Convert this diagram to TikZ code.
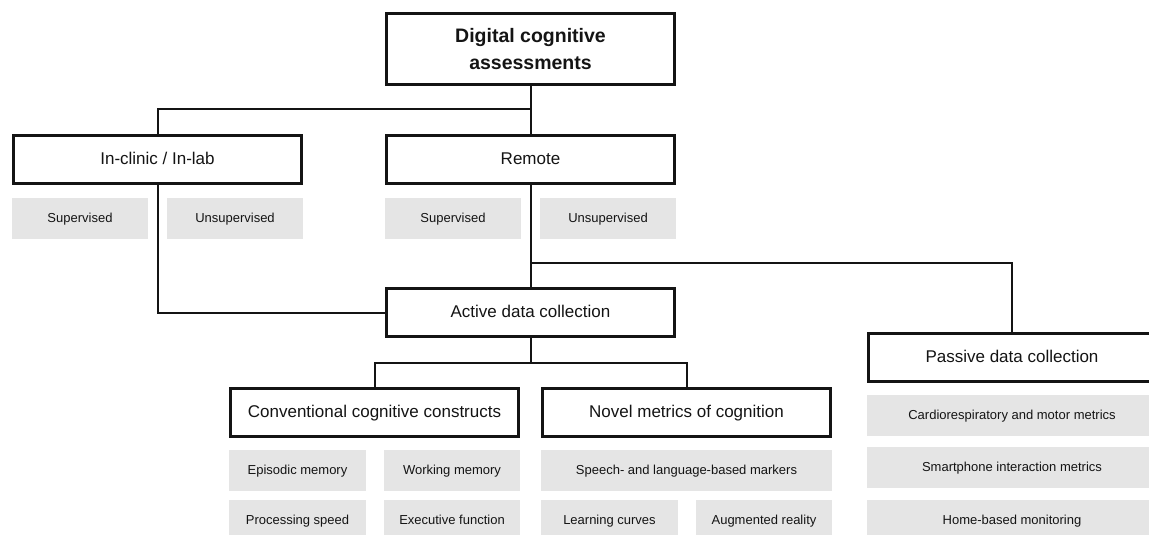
\documentclass[tikz,border=0pt]{standalone}
\usepackage{fontspec}
\setmainfont{Liberation Sans}
\usepackage{xcolor}
\usepackage{tikz}
\definecolor{boxgrey}{RGB}{229,229,229}
\definecolor{inkcolor}{RGB}{20,20,20}

\tikzset{
    mainbox/.style={draw=inkcolor, line width=3pt, fill=white, text=inkcolor,
        minimum width=288pt, minimum height=48pt, inner sep=0pt, text height=12.5pt, text depth=3.5pt,
        font=\fontsize{17}{20}\selectfont},
    greybox/.style={fill=boxgrey, text=inkcolor, minimum height=41pt, inner sep=0pt,
        text height=9.5pt, text depth=2.5pt, font=\fontsize{13}{15}\selectfont},
    link/.style={draw=inkcolor, line width=2pt}
}

\begin{document}
\begin{tikzpicture}[x=1pt, y=-1pt]
        \useasboundingbox (0,0) rectangle (1149,535);
        \begin{scope}
        \clip (0,0) rectangle (1149,535);
        % top level
        \node[mainbox, minimum height=71pt, align=center, text height=, text depth=,
            font=\fontsize{19.5}{27}\selectfont\bfseries] (top) at (530.5,49) {Digital cognitive\\assessments};

        % settings
        \node[mainbox] (clinic) at (157.5,159.5) {In-clinic / In-lab};
        \node[mainbox] (remote) at (530.5,159.5) {Remote};
        \node[greybox, minimum width=136pt] (clinicsup) at (80,218.5) {Supervised};
        \node[greybox, minimum width=136pt] (clinicunsup) at (235,218.5) {Unsupervised};
        \node[greybox, minimum width=136pt] (remotesup) at (453,218.5) {Supervised};
        \node[greybox, minimum width=136pt] (remoteunsup) at (608,218.5) {Unsupervised};

        % collection modes
        \node[mainbox] (active) at (530.5,312.5) {Active data collection};
        \node[mainbox] (passive) at (1012,357.5) {Passive data collection};

        % active branches
        \node[mainbox] (conv) at (374.5,412.5) {Conventional cognitive constructs};
        \node[mainbox] (novel) at (686.5,412.5) {Novel metrics of cognition};

        \node[greybox, minimum width=137pt] (episodic) at (297.5,470.5) {Episodic memory};
        \node[greybox, minimum width=136pt] (working) at (452,470.5) {Working memory};
        \node[greybox, minimum width=137pt] (processing) at (297.5,520.5) {Processing speed};
        \node[greybox, minimum width=136pt] (executive) at (452,520.5) {Executive function};
        \node[greybox, minimum width=291pt] (speech) at (686.5,470.5) {Speech- and language-based markers};
        \node[greybox, minimum width=137pt] (learning) at (609.5,520.5) {Learning curves};
        \node[greybox, minimum width=136pt] (augmented) at (764,520.5) {Augmented reality};

        % passive branches
        \node[greybox, minimum width=291pt] (cardio) at (1012,415.5) {Cardiorespiratory and motor metrics};
        \node[greybox, minimum width=291pt] (phone) at (1012,467.5) {Smartphone interaction metrics};
        \node[greybox, minimum width=291pt] (home) at (1012,520.5) {Home-based monitoring};

        % connectors
        \coordinate (splittop) at (530.5,109);
        \coordinate (splitremote) at (530.5,263);
        \coordinate (splitactive) at (530.5,363);
        \draw[link] (top.south) -- (remote.north);
        \draw[link] (splittop) -| (clinic.north);
        \draw[link] (clinic.south) |- (active.west);
        \draw[link] (remote.south) -- (active.north);
        \draw[link] (splitremote) -| (passive.north);
        \draw[link] (active.south) -- (splitactive);
        \draw[link] (splitactive) -| (conv.north);
        \draw[link] (splitactive) -| (novel.north);
        \end{scope}
    \end{tikzpicture}
\end{document}
